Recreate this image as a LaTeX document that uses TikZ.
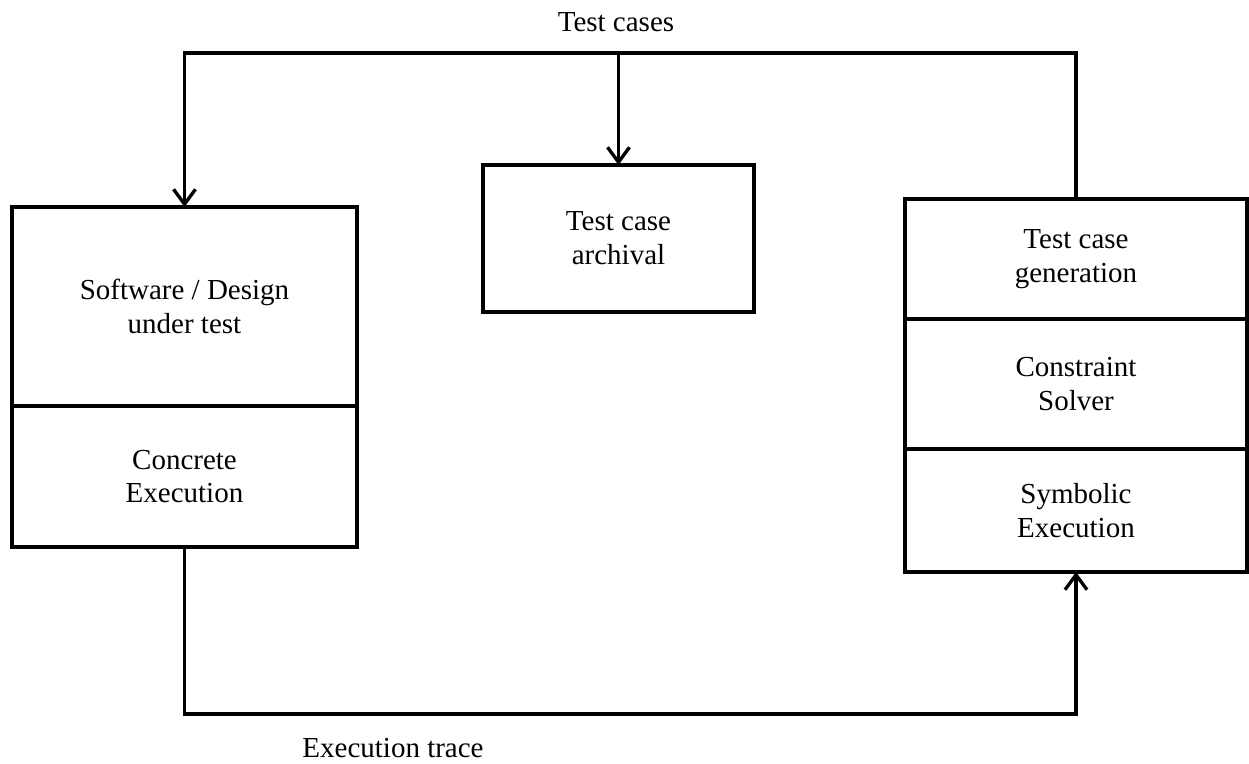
\documentclass[tikz,border=0pt]{standalone}
\usepackage{fontspec}
\setmainfont{Liberation Serif}
\usetikzlibrary{arrows.meta}
\begin{document}
\begin{tikzpicture}[x=0.02cm,y=-0.02cm,
  box/.style={draw,line width=1.9pt,inner sep=0pt,outer sep=0pt,align=center,
    font=\fontsize{16.5}{19.3}\selectfont},
  lbl/.style={font=\fontsize{16.5}{19.3}\selectfont},
  conn/.style={line width=1.9pt},
  arr/.style={conn,-{Straight Barb[length=8.5pt,width=12.5pt,line width=1.9pt]}}]
\useasboundingbox (0,0) rectangle (1249,764);
\node[box,minimum width=345*0.02cm,minimum height=199*0.02cm] (sut) at (184.5,306.5) {Software / Design\\under test};
\node[box,minimum width=345*0.02cm,minimum height=141*0.02cm] (conc) at (184.5,476.5) {Concrete\\Execution};
\node[box,minimum width=271*0.02cm,minimum height=147*0.02cm] (arch) at (618.5,238.5) {Test case\\archival};
\node[box,minimum width=342*0.02cm,minimum height=120*0.02cm] (gen) at (1076,259) {Test case\\generation};
\node[box,minimum width=342*0.02cm,minimum height=130*0.02cm] (solv) at (1076,384) {Constraint\\Solver};
\node[box,minimum width=342*0.02cm,minimum height=123*0.02cm] (sym) at (1076,510.5) {Symbolic\\Execution};
\coordinate (top) at (0,53);
\coordinate (bot) at (0,714);
\node[lbl] (tc) at (616,22) {Test cases};
\node[lbl] (et) at (393,748) {Execution trace};
\draw[arr] (gen.north) |- (sut.north |- top) -- (sut.north);
\draw[arr] (arch.north |- top) -- (arch.north);
\draw[arr] (conc.south) |- (sym.south |- bot) -- (sym.south);
\end{tikzpicture}
\end{document}
